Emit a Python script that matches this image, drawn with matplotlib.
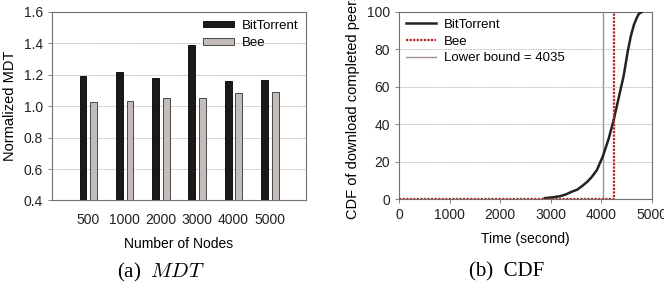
import numpy as np
import matplotlib.pyplot as plt

# data for (a): normalized MDT per network size
nodes = ['500', '1000', '2000', '3000', '4000', '5000']
mdt_bt = [1.19, 1.22, 1.18, 1.39, 1.16, 1.165]
mdt_bee = [1.03, 1.035, 1.05, 1.055, 1.085, 1.09]

# data for (b): CDF of download completed peers
bt_time = [2880, 3000, 3180, 3300, 3420, 3520, 3620, 3710, 3800, 3910, 4030,
           4140, 4240, 4340, 4440, 4520, 4580, 4640, 4700, 4740, 4800]
bt_cdf = [0.5, 0.8, 1.5, 2.5, 4, 5, 7, 9, 11.5, 15.5, 23,
          32, 42, 54, 66, 79, 87, 93, 97, 99, 100]
bee_time = [0, 4240, 4240]
bee_cdf = [0, 0, 100]
lower_bound = 4035

plt.rcParams['font.family'] = ['Liberation Sans', 'DejaVu Sans']
fig = plt.figure(figsize=(6.64, 2.91), dpi=100)

spine_col = '#707070'
grid_col = '#a0a0a0'
fs = 10
lfs = 9.5

# ---- (a) MDT bars
ax1 = fig.add_axes([0.0783, 0.311, 0.3825, 0.648])
x = np.arange(1, len(nodes) + 1)
w = 0.19
ax1.bar(x - 0.145, mdt_bt, w, bottom=0, color='#1a1a1a', edgecolor='black',
        linewidth=0.6, label='BitTorrent', zorder=3)
ax1.bar(x + 0.15, mdt_bee, w, bottom=0, color='#c4bcb8', edgecolor='#303030',
        linewidth=0.6, label='Bee', zorder=3)
ax1.set_xlim(0, 7)
ax1.set_ylim(0.4, 1.6)
ax1.set_yticks(np.arange(0.4, 1.61, 0.2))
ax1.set_yticklabels(['%.1f' % v for v in np.arange(0.4, 1.61, 0.2)])
ax1.set_xticks(x)
ax1.set_xticklabels(nodes)
ax1.tick_params(axis='x', length=0, pad=9, labelsize=fs, colors='#222222')
ax1.tick_params(axis='y', length=3, width=0.6, color=spine_col, labelsize=fs,
                colors='#222222')
ax1.yaxis.grid(True, linestyle=(0, (1, 1)), color=grid_col, linewidth=0.6, zorder=0)
for s in ax1.spines.values():
    s.set_color(spine_col)
    s.set_linewidth(0.8)
ax1.set_xlabel('Number of Nodes', fontsize=fs, labelpad=7)
ax1.set_ylabel('Normalized MDT', fontsize=10.5, labelpad=5)
ax1.legend(loc='upper right', frameon=False, fontsize=lfs, handlelength=2.3,
           handleheight=0.38, handletextpad=0.6, borderaxespad=0.2,
           labelspacing=0.4)

# ---- (b) CDF
ax2 = fig.add_axes([0.601, 0.316, 0.381, 0.643])
ax2.plot(bt_time, bt_cdf, color='#222222', linewidth=1.8, label='BitTorrent', zorder=3)
ax2.plot(bee_time, bee_cdf, color='#b22222', linewidth=1.6, linestyle=(0, (1, 0.6)),
         label='Bee', zorder=4)
ax2.axvline(lower_bound, color='#a09090', linewidth=1.0, zorder=2,
            label='Lower bound = %d' % lower_bound)
ax2.set_xlim(0, 5000)
ax2.set_ylim(0, 100)
ax2.set_xticks(np.arange(0, 5001, 1000))
ax2.set_yticks(np.arange(0, 101, 20))
ax2.tick_params(axis='both', length=3, width=0.6, color=spine_col, labelsize=fs,
                colors='#222222')
ax2.yaxis.grid(True, linestyle=(0, (1, 1)), color=grid_col, linewidth=0.6, zorder=0)
for s in ax2.spines.values():
    s.set_color(spine_col)
    s.set_linewidth(0.8)
ax2.set_xlabel('Time (second)', fontsize=fs, labelpad=7)
ax2.set_ylabel('CDF of download completed peers', fontsize=10.5, labelpad=5)
ax2.legend(loc='upper left', frameon=False, fontsize=lfs, handlelength=2.3,
           handletextpad=0.6, borderaxespad=0.1, labelspacing=0.35)

# captions
fig.text(0.242, 0.065, r'(a)  $MDT$', ha='center', va='center', fontsize=15,
         family='Liberation Serif', math_fontfamily='cm')
fig.text(0.763, 0.065, '(b)  CDF', ha='center', va='center', fontsize=15,
         family='Liberation Serif')

fig.savefig('out.png', dpi=100)
